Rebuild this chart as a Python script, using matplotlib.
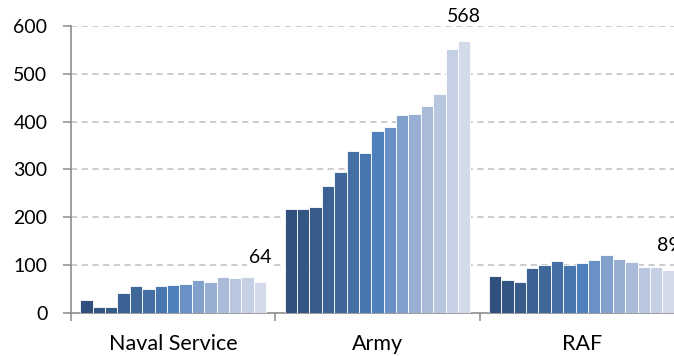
import numpy as np
import matplotlib.pyplot as plt

# values (15 bars per service)
services = ['Naval Service', 'Army', 'RAF']
naval = [26, 11, 11, 41, 56, 50, 55, 59, 61, 68, 64, 74, 72, 75, 64]
army = [218, 216, 222, 266, 295, 339, 335, 380, 388, 414, 416, 433, 457, 551, 568]
raf = [77, 68, 65, 94, 100, 109, 100, 104, 110, 121, 113, 107, 96, 96, 89]
yticks = [0, 100, 200, 300, 400, 500, 600]

# dark navy -> office blue -> pale blue
colors = ['#30517D', '#335682', '#385C8A', '#3B6292', '#3F6899', '#4470A6',
          '#4876B0', '#4E80BD', '#6A91C6', '#82A0CC', '#98AED2', '#A9BBD9',
          '#B8C6DF', '#C6D0E5', '#D3DAE9']

plt.rcParams['font.family'] = ['Lato', 'DejaVu Sans']

fig = plt.figure(figsize=(6.74, 3.56), dpi=100)
ax = fig.add_axes([71 / 674, 43.3 / 356, 613 / 674, 286.7 / 356])

n = len(naval)
w = 0.91 / n
for i, vals in enumerate([naval, army, raf]):
    x = i - 0.455 + (np.arange(n) + 0.5) * w
    ax.bar(x, vals, width=w, color=colors, edgecolor='white', linewidth=0.6, zorder=3)
    # label the last bar of each group
    ax.annotate(str(vals[-1]), (x[-1], vals[-1]), xytext=(0, 18), textcoords='offset points',
                ha='center', va='center', fontsize=14, color='#000000',
                bbox=dict(facecolor='white', edgecolor='none', pad=1), zorder=4)

ax.set_xlim(-0.5, 2.5)
ax.set_ylim(0, 600)
ax.set_yticks(yticks)
ax.set_xticks(range(len(services)))
ax.set_xticklabels(services)
ax.set_xticks([-0.5, 0.5, 1.5, 2.5], minor=True)

for y in yticks[1:]:
    ax.axhline(y, color='#BFBFBF', linewidth=1.1, linestyle=(0, (4, 3)), zorder=1)

for s in ['top', 'right']:
    ax.spines[s].set_visible(False)
for s in ['left', 'bottom']:
    ax.spines[s].set_color('#8C8C8C')
    ax.spines[s].set_linewidth(1.2)

ax.tick_params(axis='y', length=6, width=1.1, color='#8C8C8C', pad=11, labelsize=14)
ax.tick_params(axis='x', which='major', length=0, pad=15, labelsize=15.5)
ax.tick_params(axis='x', which='minor', length=6, width=1.1, color='#8C8C8C')

fig.savefig('out.png', dpi=100)
